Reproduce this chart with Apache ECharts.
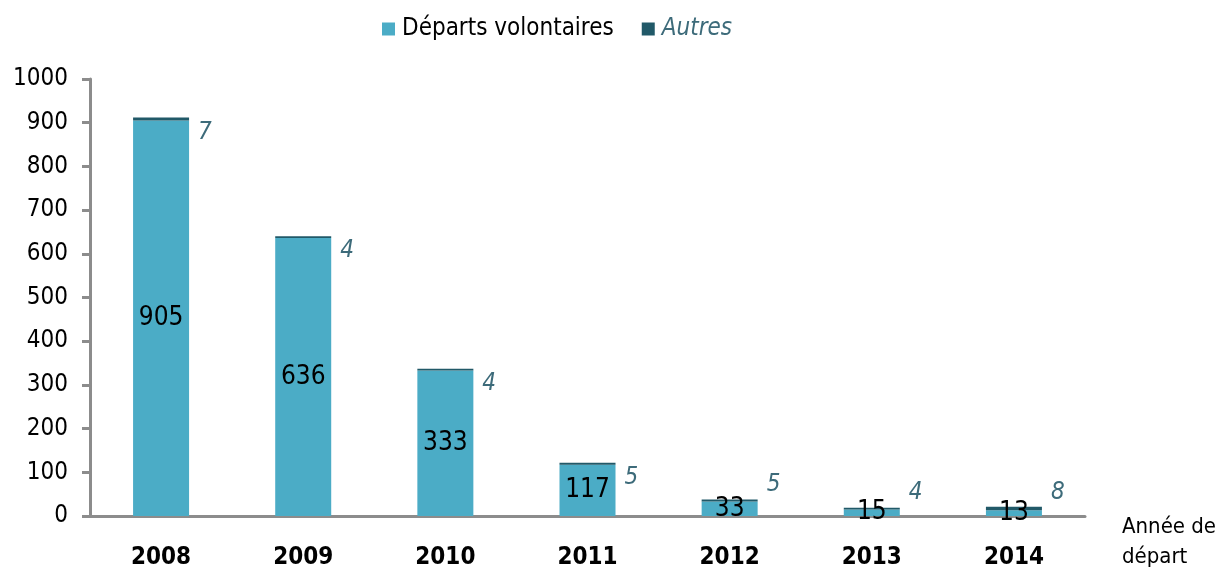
<!DOCTYPE html>
<html>
<head>
<meta charset="utf-8">
<script src="https://cdn.jsdelivr.net/npm/echarts@6/dist/echarts.min.js"></script>
<style>
  html, body { margin: 0; padding: 0; background: #fff; }
  #chart { width: 1217px; height: 573px; }
</style>
</head>
<body>
<div id="chart"></div>
<script>
var annees = ['2008', '2009', '2010', '2011', '2012', '2013', '2014'];
var departs = [905, 636, 333, 117, 33, 15, 13];
var autres = [7, 4, 4, 5, 5, 4, 8];
var yTicks = [0, 100, 200, 300, 400, 500, 600, 700, 800, 900, 1000];

var police = '"Liberation Sans Narrow", "Arial Narrow", "DejaVu Sans Condensed", sans-serif';
var mychart = echarts.init(document.getElementById('chart'));
var option;

// petites barres : on remonte l'etiquette "Autres" au dessus
var autresData = autres.map(function (v, i) {
  return {
    value: v,
    label: { offset: departs[i] < 50 ? [4, -16] : [4, 14] }
  };
});

option = {
  animation: false,
  textStyle: { fontFamily: police },
  legend: {
    top: 12,
    left: 377,
    itemWidth: 13,
    itemHeight: 13,
    itemGap: 28,
    icon: 'rect',
    textStyle: { fontSize: 24, fontFamily: police, color: '#000', padding: [0, 0, 0, 2] },
    data: [
      { name: 'Départs volontaires' },
      { name: 'Autres', textStyle: { fontStyle: 'italic', color: '#3d6b7a' } }
    ]
  },
  grid: {
    left: 90,
    right: 132,
    top: 79,
    bottom: 57,
    outerBoundsMode: 'none'
  },
  xAxis: {
    type: 'category',
    data: annees,
    name: 'Année de\ndépart',
    nameLocation: 'end',
    nameGap: 37,
    nameTextStyle: {
      fontSize: 22,
      fontFamily: police,
      color: '#000',
      align: 'left',
      verticalAlign: 'top',
      lineHeight: 30,
      padding: [-4, 0, 0, 0]
    },
    axisLine: { lineStyle: { color: '#8c8c8c', width: 3 } },
    axisTick: { show: false },
    axisLabel: {
      fontSize: 24,
      fontWeight: 'bold',
      fontFamily: police,
      color: '#000',
      margin: 30
    }
  },
  yAxis: {
    type: 'value',
    min: yTicks[0],
    max: yTicks[yTicks.length - 1],
    interval: 100,
    splitLine: { show: false },
    axisLine: { show: true, lineStyle: { color: '#8c8c8c', width: 3 } },
    axisTick: { show: true, length: 8, lineStyle: { color: '#8c8c8c', width: 3 } },
    axisLabel: {
      fontSize: 24,
      fontFamily: police,
      color: '#000',
      margin: 22,
      formatter: function (v) { return String(v); }
    }
  },
  series: [
    {
      name: 'Départs volontaires',
      type: 'bar',
      stack: 'total',
      barWidth: 56,
      data: departs,
      itemStyle: { color: '#4bacc6' },
      label: {
        show: true,
        position: 'inside',
        fontSize: 26,
        fontFamily: police,
        color: '#000'
      }
    },
    {
      name: 'Autres',
      type: 'bar',
      stack: 'total',
      barWidth: 56,
      data: autresData,
      itemStyle: { color: '#215968' },
      label: {
        show: true,
        position: 'right',
        fontSize: 24,
        fontStyle: 'italic',
        fontFamily: police,
        color: '#3d6b7a'
      }
    }
  ]
};
mychart.setOption(option);
</script>
</body>
</html>
